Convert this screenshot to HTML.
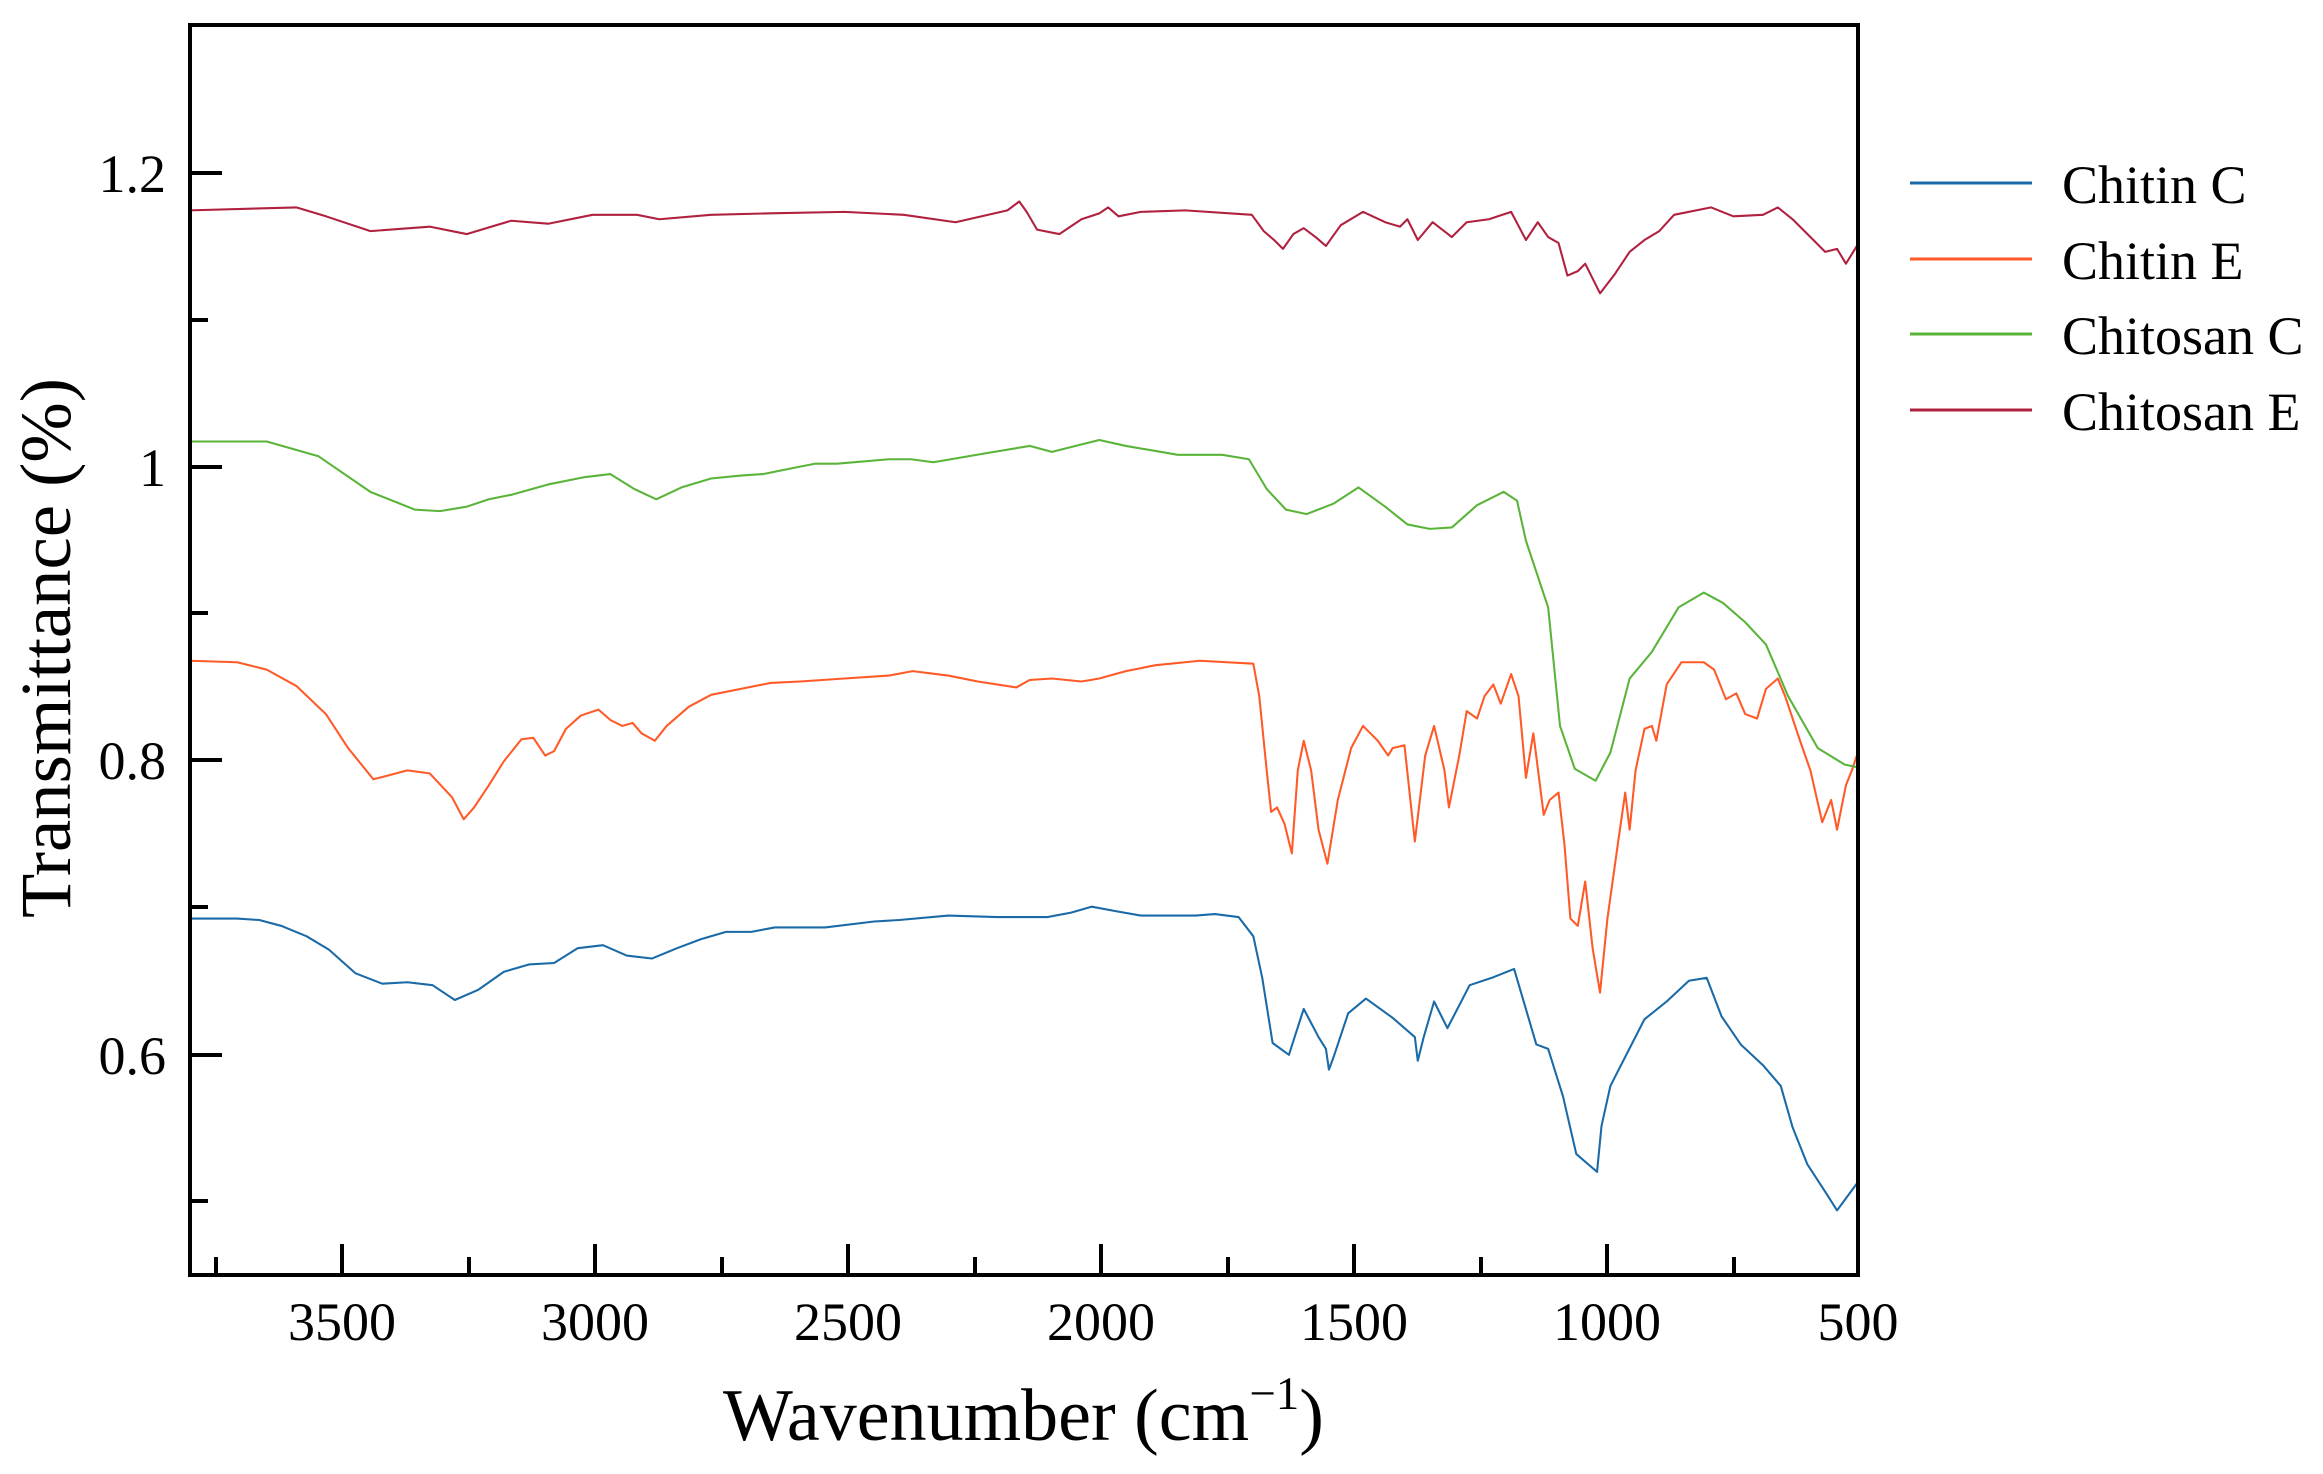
<!DOCTYPE html>
<html><head><meta charset="utf-8"><style>
html,body{margin:0;padding:0;background:#fff;}
svg{display:block;}
text{font-family:"Liberation Serif",serif;fill:#000;}
</style></head><body>
<svg width="2323" height="1474" viewBox="0 0 2323 1474" xmlns="http://www.w3.org/2000/svg">
<rect width="2323" height="1474" fill="#fff"/>
<g transform="scale(1.4815)" fill="none" stroke-width="1.4" stroke-linejoin="round">
<polyline stroke="#1a6aa8" points="128,620 160,620 175,621 190,625 207,632 222,641 240,657 258,664 275,663 292,665 307,675 323,668 340,656 357,651 374,650 390,640 407,638 423,645 440,647 457,640 473,634 490,629 507,629 523,626 557,626 590,622 607,621 640,618 673,619 707,619 723,616 737,612 753,615 770,618 807,618 820,617 836,619 846,632 852,660 859,704 870,712 880,681 890,700 895,708 897,722 900,714 910,684 922,674 940,687 955,700 957,716 961,700 968,676 977,694 992,665 1007,660 1022,654 1037,705 1045,708 1055,740 1064,779 1078,791 1081,760 1087,733 1110,688 1125,676 1140,662 1152,660 1162,686 1175,705 1190,719 1202,733 1210,761 1220,786 1233,806 1240,817 1254,798"/>
<polyline stroke="#ff5a28" points="128,446 160,447 180,452 200,463 220,482 235,505 252,526 260,524 275,520 290,522 305,538 313,553 320,545 330,530 340,514 352,499 360,498 368,510 374,507 382,492 392,483 404,479 412,486 420,490 427,488 433,495 442,500 450,490 465,477 480,469 500,465 520,461 540,460 570,458 600,456 616,453 640,456 660,460 686,464 695,459 710,458 730,460 742,458 760,453 780,449 810,446 846,448 850,470 855,520 858,548 862,545 867,556 872,576 876,520 880,500 885,520 890,560 896,583 903,540 912,505 920,490 930,500 937,510 940,505 948,503 955,568 962,510 968,490 975,520 978,545 985,510 990,480 997,485 1002,470 1008,462 1013,475 1020,455 1025,470 1030,525 1035,495 1042,550 1046,540 1052,535 1056,570 1060,620 1065,625 1070,595 1075,640 1080,670 1085,620 1092,570 1097,535 1100,560 1104,520 1110,492 1115,490 1118,500 1125,462 1135,447 1150,447 1157,452 1165,472 1172,468 1178,482 1186,485 1192,465 1200,458 1205,470 1215,500 1222,520 1230,555 1236,540 1240,560 1246,530 1250,520 1254,508"/>
<polyline stroke="#5ab43a" points="128,298 180,298 215,308 250,332 280,344 297,345 315,342 330,337 345,334 370,327 395,322 412,320 428,330 443,337 460,329 480,323 500,321 515,320 535,316 550,313 565,313 600,310 615,310 630,312 665,306 695,301 710,305 742,297 760,301 795,307 825,307 843,310 855,330 868,344 882,347 900,340 917,329 935,342 950,354 965,357 980,356 997,341 1015,332 1024,338 1030,365 1035,380 1045,410 1053,490 1063,519 1077,527 1087,508 1100,458 1115,440 1133,410 1150,400 1163,407 1178,420 1192,435 1207,470 1227,505 1245,516 1254,518"/>
<polyline stroke="#b0203f" points="128,142 200,140 220,146 250,156 290,153 315,158 345,149 370,151 400,145 430,145 445,148 480,145 520,144 570,143 610,145 645,150 680,142 688,136 693,143 700,155 715,158 730,148 742,144 748,140 755,146 770,143 800,142 845,145 853,156 860,162 866,168 873,158 880,154 888,160 895,166 905,152 920,143 935,150 945,153 950,148 957,162 967,150 980,160 990,150 1005,148 1020,143 1030,162 1038,150 1045,160 1052,164 1058,186 1065,183 1070,178 1080,198 1090,185 1100,170 1110,162 1120,156 1130,145 1155,140 1170,146 1190,145 1200,140 1210,148 1222,160 1232,170 1240,168 1246,178 1254,165"/>
</g>
<rect x="190" y="25" width="1668" height="1250" fill="none" stroke="#000" stroke-width="4"/>
<g stroke="#000" stroke-width="4">
<line x1="190" y1="173" x2="222" y2="173"/>
<line x1="190" y1="467" x2="222" y2="467"/>
<line x1="190" y1="760" x2="222" y2="760"/>
<line x1="190" y1="1055" x2="222" y2="1055"/>
<line x1="190" y1="320" x2="208" y2="320"/>
<line x1="190" y1="613" x2="208" y2="613"/>
<line x1="190" y1="907" x2="208" y2="907"/>
<line x1="190" y1="1201" x2="208" y2="1201"/>
<line x1="342" y1="1275" x2="342" y2="1244"/>
<line x1="595" y1="1275" x2="595" y2="1244"/>
<line x1="848" y1="1275" x2="848" y2="1244"/>
<line x1="1101" y1="1275" x2="1101" y2="1244"/>
<line x1="1354" y1="1275" x2="1354" y2="1244"/>
<line x1="1607" y1="1275" x2="1607" y2="1244"/>
<line x1="216" y1="1275" x2="216" y2="1257"/>
<line x1="469" y1="1275" x2="469" y2="1257"/>
<line x1="722" y1="1275" x2="722" y2="1257"/>
<line x1="975" y1="1275" x2="975" y2="1257"/>
<line x1="1228" y1="1275" x2="1228" y2="1257"/>
<line x1="1481" y1="1275" x2="1481" y2="1257"/>
<line x1="1734" y1="1275" x2="1734" y2="1257"/>
</g>
<g font-size="54" text-anchor="end">
<text x="166" y="192">1.2</text>
<text x="166" y="486">1</text>
<text x="166" y="779">0.8</text>
<text x="166" y="1074">0.6</text>
</g>
<g font-size="54" text-anchor="middle">
<text x="342" y="1340">3500</text>
<text x="595" y="1340">3000</text>
<text x="848" y="1340">2500</text>
<text x="1101" y="1340">2000</text>
<text x="1354" y="1340">1500</text>
<text x="1607" y="1340">1000</text>
<text x="1858" y="1340">500</text>
</g>
<text x="723" y="1440" font-size="74">Wavenumber (cm<tspan font-size="47" dy="-31">−1</tspan><tspan dy="31">)</tspan></text>
<text transform="translate(70,648) rotate(-90)" font-size="72" text-anchor="middle" textLength="540" lengthAdjust="spacingAndGlyphs">Transmittance (%)</text>
<g stroke-width="3">
<line x1="1910" y1="183" x2="2032" y2="183" stroke="#1a6aa8"/>
<line x1="1910" y1="259" x2="2032" y2="259" stroke="#ff5a28"/>
<line x1="1910" y1="334" x2="2032" y2="334" stroke="#5ab43a"/>
<line x1="1910" y1="410" x2="2032" y2="410" stroke="#b0203f"/>
</g>
<g font-size="54">
<text x="2062" y="203">Chitin C</text>
<text x="2062" y="279">Chitin E</text>
<text x="2062" y="354">Chitosan C</text>
<text x="2062" y="430">Chitosan E</text>
</g>
</svg>
</body></html>
